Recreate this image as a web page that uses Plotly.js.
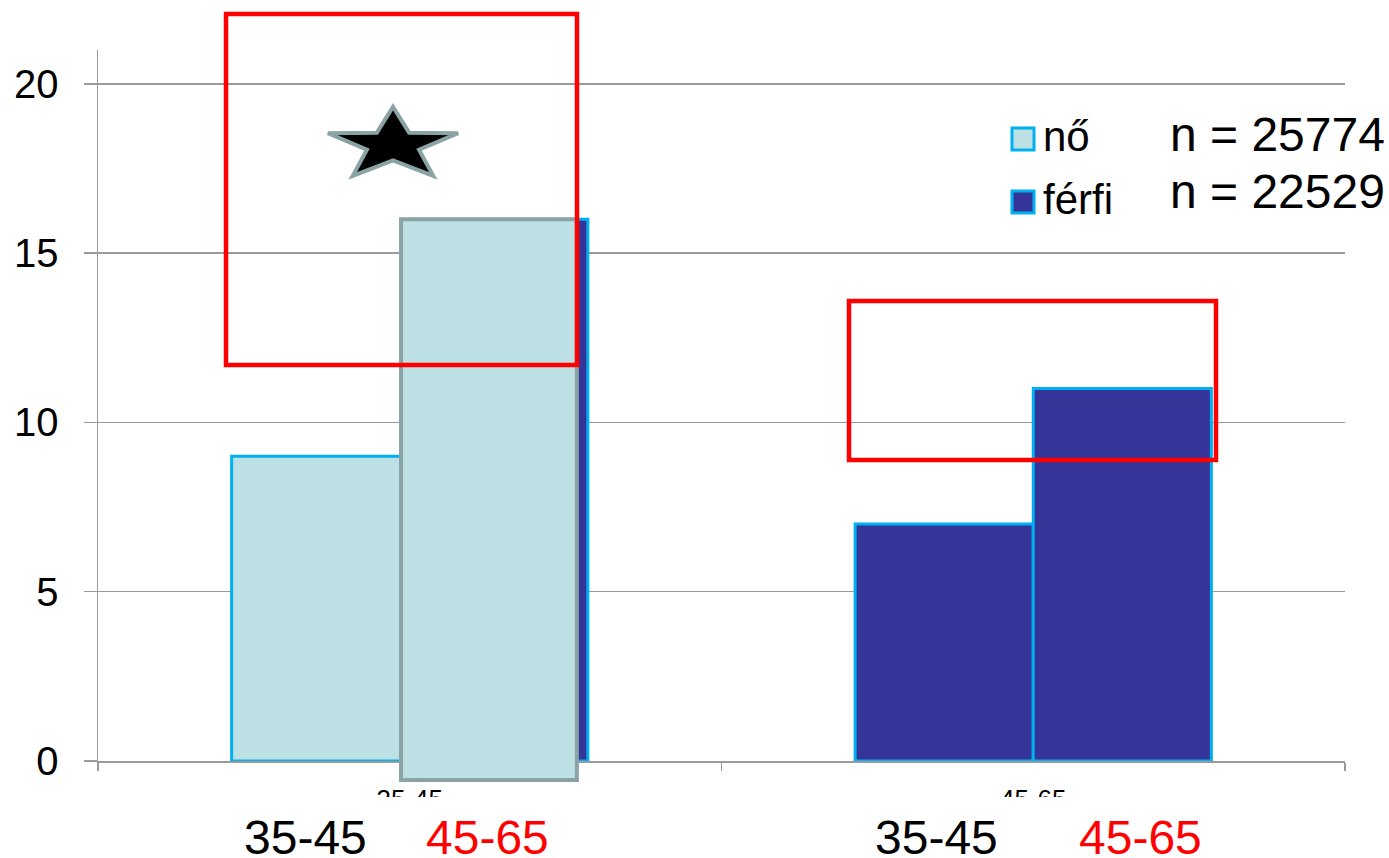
<!DOCTYPE html>
<html>
<head>
<meta charset="utf-8">
<script src="https://cdn.plot.ly/plotly-3.0.1.min.js"></script>
<style>
  html, body { margin: 0; padding: 0; background: #ffffff; }
  #chart { width: 1389px; height: 858px; }
</style>
</head>
<body>
<div id="chart"></div>
<script>
// ---- data ----
const categories = ['35-45', '45-65'];
const seriesNames = ['nő', 'férfi'];
const noValues = [9, 7];
const ferfiValues = [16, 11];
const overlayCategoryIndex = [0];
const overlayTop = [16];
const overlayBottom = [-0.56];
const sampleTexts = ['n = 25774', 'n = 22529'];
const bigLabels = ['35-45', '45-65', '35-45', '45-65'];
const bigLabelColors = ['#000000', '#ff0000', '#000000', '#ff0000'];
const yTicks = [0, 5, 10, 15, 20];

// ---- styles ----
const FONT = 'Liberation Sans, Arial, sans-serif';
const LIGHT = '#bce0e3';
const DARK = '#353599';
const CYAN = '#00b0f0';
const GREYLINE = '#8aa3a5';
const RED = '#ff0000';
const AXIS = '#9a9a9a';
const Y_MAX = 21;

const W = 1389, H = 858;
const M = { l: 98, r: 44, t: 50, b: 97 };
const PW = W - M.l - M.r, PH = H - M.t - M.b;
const px = x => (x - M.l) / PW;
const py = y => (H - M.b - y) / PH;

const barW = 0.2857;

const traces = [
  {
    type: 'bar', name: seriesNames[0], x: categories, y: noValues,
    offset: -barW, width: barW,
    marker: { color: [LIGHT, DARK], line: { color: CYAN, width: 3 } },
    showlegend: false, hoverinfo: 'x+y+name'
  },
  {
    type: 'bar', name: seriesNames[1], x: categories, y: ferfiValues,
    offset: 0, width: barW,
    marker: { color: DARK, line: { color: CYAN, width: 3 } },
    showlegend: false, hoverinfo: 'x+y+name'
  }
];

// star path (paper coords)
function starPath(cx, cy, rx, ry, inner) {
  let d = '';
  for (let i = 0; i < 10; i++) {
    const ang = -Math.PI / 2 + i * Math.PI / 5;
    const r = (i % 2 === 0) ? 1 : inner;
    const x = cx + rx * r * Math.cos(ang);
    const y = cy + ry * r * Math.sin(ang);
    d += (i === 0 ? 'M' : 'L') + px(x).toFixed(5) + ',' + py(y).toFixed(5);
  }
  return d + 'Z';
}

const shapes = [
  // moved copy of the 35-45 / férfi bar (light fill, grey border), reaching below the axis
  { type: 'rect', xref: 'x', yref: 'paper',
    x0: overlayCategoryIndex[0] - 0.014, x1: overlayCategoryIndex[0] + 0.268,
    y0: overlayBottom[0] / Y_MAX, y1: overlayTop[0] / Y_MAX,
    fillcolor: LIGHT, line: { color: GREYLINE, width: 4 }, layer: 'above' },
  // cover hiding lower part of the small category labels
  { type: 'rect', xref: 'paper', yref: 'paper', x0: -0.1, x1: 1.1, y0: py(797), y1: py(H + 20),
    fillcolor: '#ffffff', line: { width: 0 }, layer: 'above' },
  // red highlight boxes
  { type: 'rect', xref: 'paper', yref: 'paper', x0: px(226), x1: px(577), y0: py(14), y1: py(365),
    line: { color: RED, width: 4.5 }, fillcolor: 'rgba(0,0,0,0)', layer: 'above' },
  { type: 'rect', xref: 'paper', yref: 'paper', x0: px(849), x1: px(1216), y0: py(301), y1: py(460),
    line: { color: RED, width: 4.5 }, fillcolor: 'rgba(0,0,0,0)', layer: 'above' },
  // star
  { type: 'path', xref: 'paper', yref: 'paper', path: starPath(393, 145, 68.5, 38.2, 0.40),
    fillcolor: '#000000', line: { color: GREYLINE, width: 4 }, layer: 'above' },
  // legend swatches
  { type: 'rect', xref: 'paper', yref: 'paper', x0: px(1012), x1: px(1034), y0: py(128), y1: py(150),
    fillcolor: LIGHT, line: { color: CYAN, width: 3 }, layer: 'above' },
  { type: 'rect', xref: 'paper', yref: 'paper', x0: px(1012), x1: px(1034), y0: py(191), y1: py(213),
    fillcolor: DARK, line: { color: CYAN, width: 3 }, layer: 'above' }
];

const annotations = [];
// legend labels
annotations.push({ xref: 'paper', yref: 'paper', x: px(1041), y: py(137), xanchor: 'left', yanchor: 'middle',
  text: seriesNames[0], showarrow: false, font: { family: FONT, size: 42, color: '#000' } });
annotations.push({ xref: 'paper', yref: 'paper', x: px(1041), y: py(200), xanchor: 'left', yanchor: 'middle',
  text: seriesNames[1], showarrow: false, font: { family: FONT, size: 42, color: '#000' } });
// sample sizes
const nY = [134, 191];
sampleTexts.forEach((t, i) => annotations.push({ xref: 'paper', yref: 'paper', x: px(1168), y: py(nY[i]),
  xanchor: 'left', yanchor: 'middle', text: t, showarrow: false, font: { family: FONT, size: 48, color: '#000' } }));
// big group labels
const bigX = [305, 487, 936, 1140];
bigLabels.forEach((t, i) => annotations.push({ xref: 'paper', yref: 'paper', x: px(bigX[i]), y: py(837),
  xanchor: 'center', yanchor: 'middle', text: t, showarrow: false,
  font: { family: FONT, size: 48, color: bigLabelColors[i] } }));

const layout = {
  width: W, height: H,
  margin: M,
  paper_bgcolor: '#ffffff', plot_bgcolor: '#ffffff',
  barmode: 'overlay',
  showlegend: false,
  font: { family: FONT, color: '#000' },
  xaxis: {
    type: 'category', categoryorder: 'array', categoryarray: categories,
    range: [-0.5, 1.5], fixedrange: true,
    showgrid: false, zeroline: false,
    showline: true, linecolor: AXIS, linewidth: 2,
    ticks: 'outside', tickson: 'boundaries', ticklen: 8, tickwidth: 1.5, tickcolor: AXIS,
    tickfont: { family: FONT, size: 26, color: '#000' },
    ticklabelstandoff: 14
  },
  yaxis: {
    range: [0, Y_MAX], fixedrange: true,
    tickvals: yTicks, ticktext: yTicks.map(String),
    showgrid: true, gridcolor: AXIS, gridwidth: 1.5,
    zeroline: false,
    showline: true, linecolor: AXIS, linewidth: 1.5,
    ticks: 'outside', ticklen: 13, tickwidth: 1.5, tickcolor: AXIS,
    tickfont: { family: FONT, size: 40, color: '#000' },
    ticklabelstandoff: 17
  },
  shapes: shapes,
  annotations: annotations
};

Plotly.newPlot('chart', traces, layout, { displayModeBar: false, staticPlot: true });
</script>
</body>
</html>
